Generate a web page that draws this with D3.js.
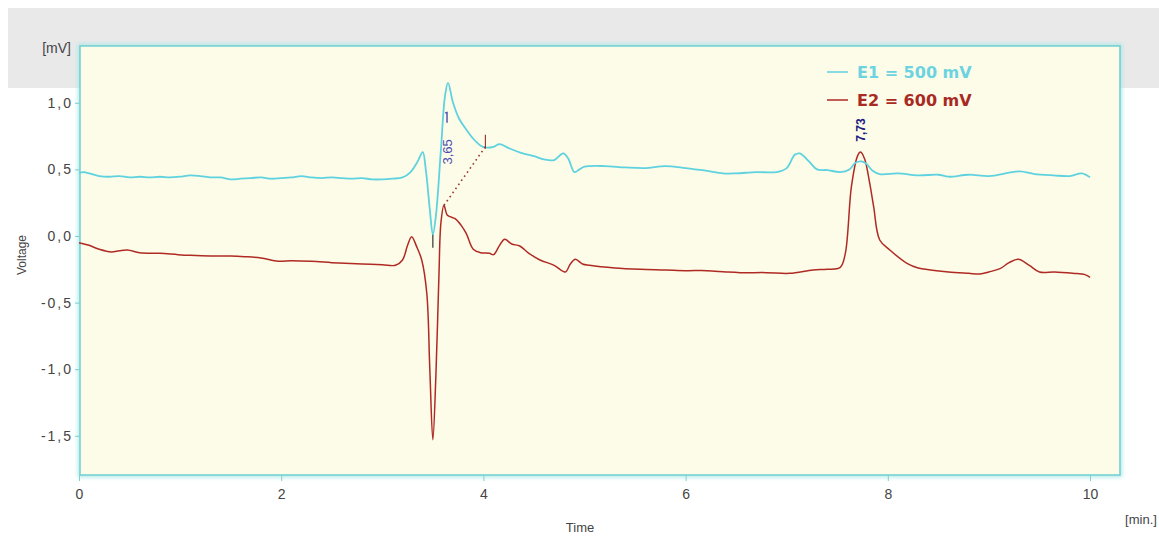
<!DOCTYPE html>
<html>
<head>
<meta charset="utf-8">
<script src="https://cdn.jsdelivr.net/npm/d3@7"></script>
<style>
  html, body { margin: 0; padding: 0; background: #ffffff; }
  svg { display: block; font-family: Arial, "Liberation Sans", sans-serif; }
</style>
</head>
<body>
<svg id="chart" width="1159" height="537"></svg>
<script>
// Electrode E1 trace (time in minutes, voltage in mV)
const e1Times = [0.00,0.05,0.10,0.20,0.30,0.40,0.50,0.60,0.70,0.80,0.90,1.00,1.10,1.20,1.30,1.40,1.50,1.60,1.70,1.80,1.90,2.00,2.10,2.20,2.30,2.40,2.50,2.60,2.70,2.80,2.90,3.00,3.10,3.20,3.28,3.35,3.40,3.43,3.47,3.50,3.53,3.58,3.62,3.65,3.70,3.76,3.83,3.90,3.97,4.02,4.10,4.16,4.25,4.39,4.50,4.60,4.70,4.79,4.84,4.90,4.95,5.00,5.20,5.40,5.60,5.80,6.00,6.20,6.37,6.50,6.70,6.90,7.00,7.08,7.13,7.22,7.30,7.40,7.53,7.62,7.68,7.74,7.79,7.85,7.92,8.10,8.30,8.50,8.60,8.80,9.00,9.20,9.31,9.45,9.64,9.80,9.92,10.00];
const e1Values = [0.475,0.48,0.47,0.45,0.445,0.45,0.44,0.445,0.44,0.445,0.44,0.445,0.455,0.45,0.44,0.44,0.425,0.43,0.435,0.44,0.43,0.435,0.44,0.45,0.44,0.435,0.44,0.435,0.43,0.435,0.425,0.425,0.43,0.44,0.48,0.56,0.63,0.50,0.20,0.01,0.15,0.65,1.05,1.15,1.00,0.88,0.80,0.73,0.68,0.665,0.67,0.69,0.66,0.62,0.60,0.575,0.57,0.62,0.58,0.48,0.50,0.52,0.525,0.515,0.51,0.525,0.51,0.49,0.47,0.47,0.48,0.48,0.51,0.61,0.62,0.56,0.50,0.495,0.48,0.50,0.55,0.56,0.54,0.49,0.465,0.47,0.455,0.46,0.445,0.46,0.45,0.475,0.485,0.465,0.455,0.45,0.47,0.44];

// Electrode E2 trace
const e2Times = [0.00,0.10,0.20,0.32,0.40,0.48,0.60,0.80,0.98,1.10,1.30,1.50,1.64,1.80,1.97,2.10,2.30,2.50,2.63,2.80,3.00,3.13,3.20,3.25,3.29,3.34,3.39,3.44,3.47,3.50,3.53,3.56,3.58,3.61,3.64,3.67,3.72,3.78,3.83,3.90,3.97,4.06,4.10,4.16,4.21,4.28,4.36,4.45,4.56,4.70,4.81,4.86,4.91,4.98,5.05,5.30,5.55,5.80,6.00,6.21,6.40,6.54,6.80,7.03,7.26,7.40,7.53,7.58,7.64,7.70,7.73,7.77,7.82,7.86,7.92,8.02,8.19,8.30,8.42,8.60,8.80,8.91,9.00,9.11,9.20,9.29,9.40,9.50,9.65,9.83,9.95,10.00];
const e2Values = [-0.05,-0.07,-0.10,-0.12,-0.11,-0.105,-0.125,-0.13,-0.14,-0.145,-0.15,-0.15,-0.155,-0.165,-0.19,-0.185,-0.19,-0.20,-0.205,-0.21,-0.215,-0.22,-0.18,-0.07,-0.005,-0.08,-0.18,-0.43,-1.00,-1.53,-1.05,-0.30,0.10,0.23,0.16,0.145,0.13,0.08,0.02,-0.10,-0.125,-0.13,-0.14,-0.07,-0.025,-0.06,-0.075,-0.13,-0.18,-0.22,-0.27,-0.21,-0.175,-0.21,-0.22,-0.24,-0.25,-0.255,-0.26,-0.26,-0.27,-0.275,-0.275,-0.28,-0.255,-0.25,-0.235,-0.13,0.37,0.60,0.63,0.58,0.40,0.22,-0.03,-0.105,-0.205,-0.24,-0.255,-0.27,-0.28,-0.285,-0.27,-0.245,-0.20,-0.175,-0.22,-0.27,-0.27,-0.28,-0.29,-0.31];

// Axis ticks and legend
const xTicks = [0, 2, 4, 6, 8, 10];
const yTicks = [1.0, 0.5, 0.0, -0.5, -1.0, -1.5];
const seriesNames = ["E1 = 500 mV", "E2 = 600 mV"];

// Peak markers: retention time and the series it belongs to
const peakTimes = [3.65, 7.73];
const peakLabels = ["3,65", "7,73"];
// Integration baseline for the first peak (time, voltage)
const baselineTimes = [3.61, 4.02];
const baselineValues = [0.23, 0.67];

const svg = d3.select("#chart");
const W = 1159, H = 537;
const plot = { left: 80, top: 46, right: 1120, bottom: 475 };

const x = d3.scaleLinear().domain([0, 10]).range([79, 1090]);
const y = d3.scaleLinear().domain([0, 1]).range([236, 102.8]);

const defs = svg.append("defs");
const glow = defs.append("filter").attr("id", "glow")
  .attr("x", "-5%").attr("y", "-5%").attr("width", "110%").attr("height", "110%");
glow.append("feGaussianBlur").attr("stdDeviation", 2);

// Header band
svg.append("rect").attr("x", 8).attr("y", 8).attr("width", W - 8).attr("height", 80)
  .attr("fill", "#e9e9e9");

// Plot background with a soft teal border
svg.append("rect")
  .attr("x", plot.left).attr("y", plot.top)
  .attr("width", plot.right - plot.left).attr("height", plot.bottom - plot.top)
  .attr("fill", "none").attr("stroke", "#a8e6e6").attr("stroke-width", 4)
  .attr("filter", "url(#glow)");
svg.append("rect")
  .attr("x", plot.left).attr("y", plot.top)
  .attr("width", plot.right - plot.left).attr("height", plot.bottom - plot.top)
  .attr("fill", "#fcfce9").attr("stroke", "#6fcfcf").attr("stroke-width", 1.5);

// Axes
const fmt = d => d3.format(".1f")(d).replace(".", ",").replace("−", "-");
const yAxis = d3.axisLeft(y).tickValues(yTicks).tickSize(5).tickPadding(2).tickFormat(fmt);
const gy = svg.append("g").attr("transform", `translate(${plot.left},0)`).call(yAxis);
gy.select(".domain").remove();
gy.selectAll(".tick line").attr("stroke", "#7fcfcf");
gy.selectAll(".tick text").attr("fill", "#444").attr("font-size", 14)
  .attr("letter-spacing", 2);

const xAxis = d3.axisBottom(x).tickValues(xTicks).tickSize(6).tickPadding(8).tickFormat(d3.format("d"));
const gx = svg.append("g").attr("transform", `translate(0,${plot.bottom})`).call(xAxis);
gx.select(".domain").remove();
gx.selectAll(".tick line").attr("stroke", "#7fcfcf");
gx.selectAll(".tick text").attr("fill", "#444").attr("font-size", 14);

// Axis titles
svg.append("text").attr("x", 71).attr("y", 53).attr("text-anchor", "end")
  .attr("font-size", 14).attr("fill", "#444").text("[mV]");
svg.append("text").attr("transform", "translate(26,255) rotate(-90)")
  .attr("text-anchor", "middle").attr("font-size", 12).attr("fill", "#444").text("Voltage");
svg.append("text").attr("x", 580).attr("y", 532).attr("text-anchor", "middle")
  .attr("font-size", 13).attr("fill", "#444").text("Time");
svg.append("text").attr("x", 1141).attr("y", 524).attr("text-anchor", "middle")
  .attr("font-size", 13).attr("fill", "#444").text("[min.]");

// Traces
const line = d3.line().x(d => x(d[0])).y(d => y(d[1])).curve(d3.curveCatmullRom.alpha(0.5));
const e1 = e1Times.map((t, i) => [t, e1Values[i]]);
const e2 = e2Times.map((t, i) => [t, e2Values[i]]);
const colors = ["#5fd2df", "#b02a24"];

svg.append("path").datum(e2).attr("d", line).attr("fill", "none")
  .attr("stroke", colors[1]).attr("stroke-width", 1.5).attr("stroke-linejoin", "round");
svg.append("path").datum(e1).attr("d", line).attr("fill", "none")
  .attr("stroke", colors[0]).attr("stroke-width", 1.8).attr("stroke-linejoin", "round");

// Integration baseline (dotted) with its end markers
svg.append("line")
  .attr("x1", x(baselineTimes[0])).attr("y1", y(baselineValues[0]))
  .attr("x2", x(baselineTimes[1])).attr("y2", y(baselineValues[1]))
  .attr("stroke", "#9a3a30").attr("stroke-width", 1.6).attr("stroke-dasharray", "1.6,3.4");
svg.append("line")
  .attr("x1", x(baselineTimes[1])).attr("x2", x(baselineTimes[1]))
  .attr("y1", y(baselineValues[1]) - 12).attr("y2", y(baselineValues[1]) + 2)
  .attr("stroke", "#9a3a30").attr("stroke-width", 1.2);
// Start marker of the first peak
svg.append("line")
  .attr("x1", x(3.50)).attr("x2", x(3.50))
  .attr("y1", y(0.01)).attr("y2", y(0.01) + 13)
  .attr("stroke", "#333").attr("stroke-width", 1.2);

// Peak labels
const e1Peak = e1Values[e1Times.indexOf(peakTimes[0])];
const e2Peak = e2Values[e2Times.indexOf(peakTimes[1])];
svg.append("line")
  .attr("x1", x(peakTimes[0]) - 1).attr("x2", x(peakTimes[0]) - 1)
  .attr("y1", y(e1Peak) + 29).attr("y2", y(e1Peak) + 40)
  .attr("stroke", "#4a4ab0").attr("stroke-width", 1.4);
svg.append("line")
  .attr("x1", x(peakTimes[0]) - 3).attr("x2", x(peakTimes[0]) - 1)
  .attr("y1", y(e1Peak) + 30).attr("y2", y(e1Peak) + 30)
  .attr("stroke", "#4a4ab0").attr("stroke-width", 1.2);
svg.append("text")
  .attr("transform", `translate(${x(peakTimes[0]) + 4},${y(e1Peak) + 69}) rotate(-90)`)
  .attr("text-anchor", "middle").attr("font-size", 13).attr("fill", "#4a4ab0")
  .text(peakLabels[0]);
svg.append("text")
  .attr("transform", `translate(${x(peakTimes[1]) + 4},${y(e2Peak) - 22}) rotate(-90)`)
  .attr("text-anchor", "middle").attr("font-size", 12).attr("font-weight", "bold")
  .attr("fill", "#1a1a80").text(peakLabels[1]);

// Legend
const legend = svg.append("g");
seriesNames.forEach((name, i) => {
  const ly = 72 + i * 28;
  legend.append("line").attr("x1", 827).attr("x2", 848).attr("y1", ly).attr("y2", ly)
    .attr("stroke", colors[i]).attr("stroke-width", 1.5);
  legend.append("text").attr("x", 857).attr("y", ly + 6)
    .attr("font-family", "'DejaVu Sans', Verdana, sans-serif")
    .attr("font-size", 16).attr("font-weight", "bold")
    .attr("fill", i === 0 ? "#6dd3e0" : "#a82a22").text(name);
});
</script>
</body>
</html>
